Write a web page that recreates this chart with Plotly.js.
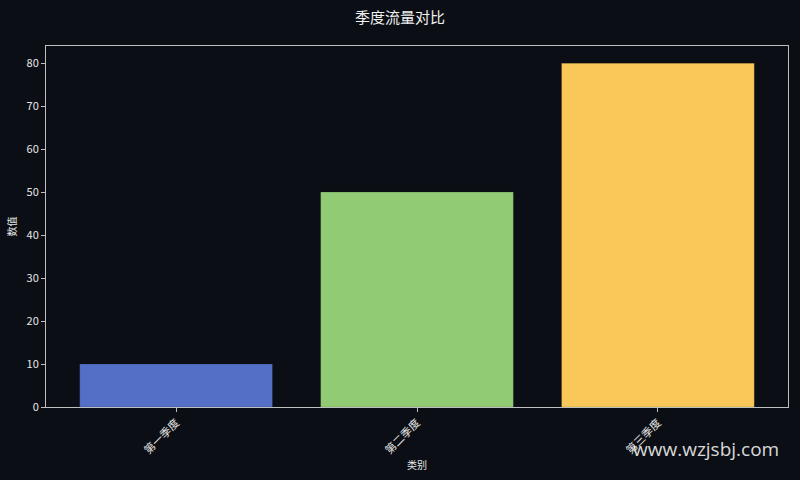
<!DOCTYPE html>
<html>
<head>
<meta charset="utf-8">
<script src="https://cdn.plot.ly/plotly-3.0.1.min.js"></script>
<style>
  html, body { margin: 0; padding: 0; background: #0b0e14; }
  #chart { width: 800px; height: 480px; }
</style>
</head>
<body>
<div id="chart"></div>
<script>
var categories = ["第一季度", "第二季度", "第三季度"];
var values = [10, 50, 80];
var barColors = ["#5470c6", "#91cc75", "#fac858"];

var FONT = '"Noto Sans CJK SC", "DejaVu Sans", sans-serif';
var AXIS = "#bfbfbf";

var data = [
    {
        x: categories,
        y: values,
        type: 'bar',
        width: 0.8,
        marker: { color: barColors, line: { color: "rgba(0,0,0,0.25)", width: 0.6 } },
        hoverinfo: 'x+y'
    }
];

var layout = {
    width: 800,
    height: 480,
    paper_bgcolor: "#0b0e14",
    plot_bgcolor: "#0b0e14",
    font: { family: FONT, color: "#e6e6e6", size: 11 },
    margin: { l: 46, r: 12, t: 46, b: 73 },
    showlegend: false,
    title: {
        text: "季度流量对比",
        font: { size: 15, color: "#f0f0f0" },
        x: 0.5, xanchor: 'center',
        y: 0.962, yanchor: 'middle'
    },
    xaxis: {
        range: [-0.54, 2.54],
        showline: true, linecolor: AXIS, linewidth: 1, mirror: true,
        ticks: 'outside', ticklen: 4, tickcolor: AXIS,
        tickangle: -45,
        tickfont: { size: 11, color: "#e6e6e6" },
        showgrid: false, zeroline: false,
        title: { text: "类别", font: { size: 10, color: "#e6e6e6" }, standoff: 2 }
    },
    yaxis: {
        range: [0, 84],
        dtick: 10,
        showline: true, linecolor: AXIS, linewidth: 1, mirror: true,
        ticks: 'outside', ticklen: 4, tickcolor: AXIS,
        tickfont: { size: 11, color: "#e6e6e6" },
        showgrid: false, zeroline: false,
        title: { text: "数值", font: { size: 10, color: "#e6e6e6" }, standoff: 8 }
    },
    annotations: [
        {
            text: "www.wzjsbj.com",
            xref: 'paper', yref: 'paper',
            x: 0.991, y: -0.115,
            xanchor: 'right', yanchor: 'middle',
            showarrow: false,
            font: { family: '"Open Sans", "DejaVu Sans", sans-serif', size: 19, color: "rgba(255,255,255,0.85)" }
        }
    ]
};

Plotly.newPlot("chart", data, layout, { displayModeBar: false, staticPlot: true });
</script>
</body>
</html>
